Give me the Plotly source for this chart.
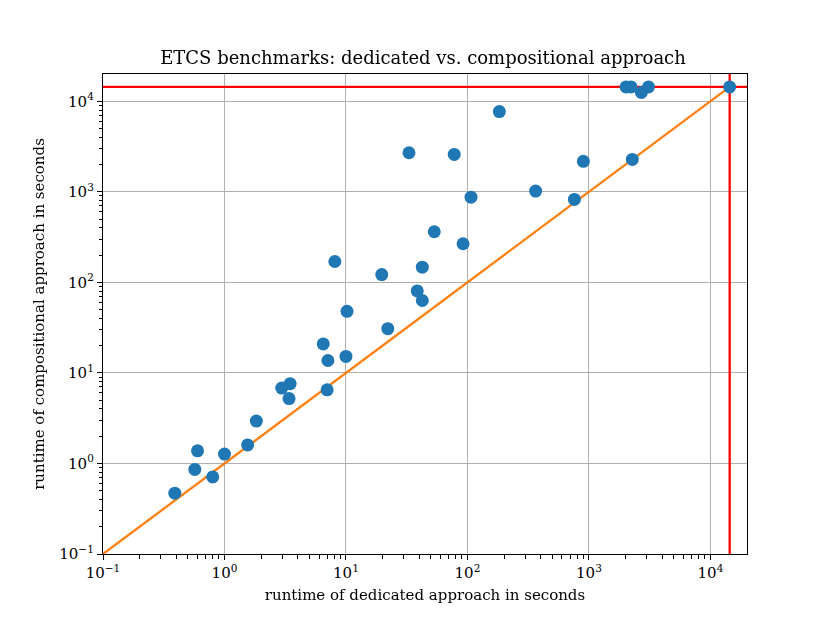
import plotly.graph_objects as go

# runtimes in seconds (timeout = 4h)
TIMEOUT = 14400
dedicated = [0.39, 0.57, 0.60, 0.80, 1.0, 1.55, 1.83, 2.96, 3.47, 3.4,
             6.5, 7.1, 7.0, 8.1, 10.0, 10.2, 19.7, 22.1, 33, 38.6,
             42.5, 42.5, 53.3, 77.8, 92, 107, 183, 364, 759, 900,
             2020, 2220, 2275, 2700, 3090, 14400]
compositional = [0.47, 0.86, 1.38, 0.71, 1.27, 1.6, 2.94, 6.8, 7.6, 5.2,
                 20.9, 13.7, 6.5, 170, 15.2, 47.9, 122, 30.8, 2700, 80.5,
                 63, 147, 362, 2590, 267, 873, 7700, 1020, 824, 2170,
                 14400, 14400, 2280, 12500, 14400, 14400]

x_lim = [0.1, 20000]
y_lim = [0.1, 20000]
tick_vals = [0.1, 1, 10, 100, 1000, 10000]
tick_text = ["10<sup>−1</sup>", "10<sup>0</sup>", "10<sup>1</sup>",
             "10<sup>2</sup>", "10<sup>3</sup>", "10<sup>4</sup>"]
minor_vals = [m * d for d in tick_vals for m in range(2, 10) if m * d < 20000]

fig = go.Figure()

# timeout lines
fig.add_trace(go.Scatter(x=x_lim, y=[TIMEOUT, TIMEOUT], mode="lines",
                         line=dict(color="red", width=2.3), hoverinfo="skip"))
fig.add_trace(go.Scatter(x=[TIMEOUT, TIMEOUT], y=y_lim, mode="lines",
                         line=dict(color="red", width=2.3), hoverinfo="skip"))
# diagonal
fig.add_trace(go.Scatter(x=[0.1, TIMEOUT], y=[0.1, TIMEOUT], mode="lines",
                         line=dict(color="#ff7f0e", width=2.3), hoverinfo="skip"))
fig.add_trace(go.Scatter(x=dedicated, y=compositional, mode="markers",
                         marker=dict(color="#1f77b4", size=13, line=dict(width=0))))
# invisible copy so the minor-tick axes get drawn
fig.add_trace(go.Scatter(x=dedicated, y=compositional, mode="markers",
                         xaxis="x2", yaxis="y2", opacity=0, hoverinfo="skip"))

font = "DejaVu Serif, Liberation Serif, serif"
axis_common = dict(
    type="log", range=[-1, 4.301],
    tickmode="array", tickvals=tick_vals, ticktext=tick_text,
    ticks="outside", ticklen=5, tickwidth=1.1, tickcolor="black",
    showline=True, linecolor="black", linewidth=1.3, mirror=True,
    showgrid=True, gridcolor="#b0b0b0", gridwidth=1.2,
    zeroline=False,
    tickfont=dict(family=font, size=15, color="black"),
)
minor_axis = dict(
    type="log", range=[-1, 4.301],
    tickmode="array", tickvals=minor_vals, ticktext=[""] * len(minor_vals),
    ticks="outside", ticklen=3.5, tickwidth=1, tickcolor="black",
    showline=False, showgrid=False, zeroline=False, showticklabels=False,
)

fig.update_layout(
    width=830, height=623,
    margin=dict(l=95, r=91, t=66, b=77),
    plot_bgcolor="white", paper_bgcolor="white",
    showlegend=False,
    title=dict(text="ETCS benchmarks: dedicated vs. compositional approach",
               x=0.5, xanchor="center", y=0.921, yanchor="middle",
               font=dict(family=font, size=18, color="black")),
    font=dict(family=font, color="black"),
    xaxis=dict(title=dict(text="runtime of dedicated approach in seconds",
                          font=dict(family=font, size=15), standoff=8),
               **axis_common),
    yaxis=dict(title=dict(text="runtime of compositional approach in seconds",
                          font=dict(family=font, size=15), standoff=11),
               **axis_common),
    xaxis2=dict(overlaying="x", anchor="y", side="bottom", **minor_axis),
    yaxis2=dict(overlaying="y", anchor="x", side="left", **minor_axis),
)

fig.write_html("out.html")
